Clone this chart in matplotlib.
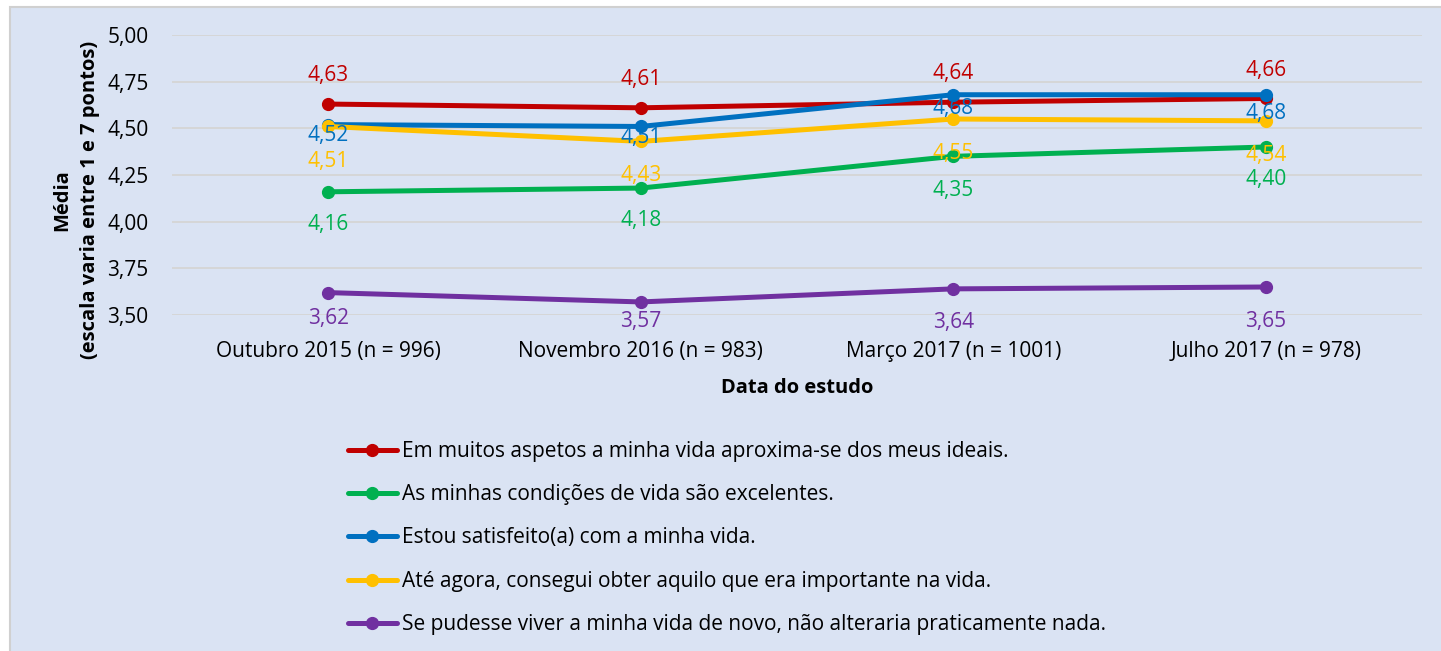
import matplotlib
matplotlib.use("Agg")
import matplotlib.pyplot as plt
from matplotlib.patches import Rectangle

plt.rcParams['font.family'] = ['Open Sans', 'DejaVu Sans']

# data
dates = ['Outubro 2015 (n = 996)', 'Novembro 2016 (n = 983)',
         'Março 2017 (n = 1001)', 'Julho 2017 (n = 978)']
series_names = [
    'Em muitos aspetos a minha vida aproxima-se dos meus ideais.',
    'As minhas condições de vida são excelentes.',
    'Estou satisfeito(a) com a minha vida.',
    'Até agora, consegui obter aquilo que era importante na vida.',
    'Se pudesse viver a minha vida de novo, não alteraria praticamente nada.',
]
ideais = [4.63, 4.61, 4.64, 4.66]
condicoes = [4.16, 4.18, 4.35, 4.40]
satisfeito = [4.52, 4.51, 4.68, 4.68]
importante = [4.51, 4.43, 4.55, 4.54]
novo = [3.62, 3.57, 3.64, 3.65]
yticks = [3.50, 3.75, 4.00, 4.25, 4.50, 4.75, 5.00]

all_series = [ideais, condicoes, satisfeito, importante, novo]
colors = ['#C00000', '#00B050', '#0070C0', '#FFC000', '#7030A0']
# label offsets in pixels (negative = below the point)
label_dy = [
    [29, 28, 29, 28],
    [-33, -32, -34, -33],
    [-11, -11, -14, -19],
    [-35, -34, -34, -35],
    [-26, -20, -34, -35],
]

W, H = 1441, 651
fig = plt.figure(figsize=(W / 100, H / 100), dpi=100)
fig.patch.set_facecolor('white')
fig.patches.append(Rectangle((10 / W, -0.01), 1.1, 1 - 7 / H + 0.01,
                             transform=fig.transFigure, facecolor='#DAE3F3',
                             edgecolor='#D0D0D0', linewidth=1.5, zorder=-5))

ax = fig.add_axes([172 / W, 1 - 315 / H, 1250 / W, 280 / H])
ax.set_facecolor('none')
x = list(range(len(dates)))

handles = []
for vals, col, name, dys in zip(all_series, colors, series_names, label_dy):
    ln, = ax.plot(x, vals, color=col, linewidth=3.6, marker='o',
                  markersize=8.5, solid_capstyle='round', zorder=3)
    handles.append(ln)
    for xi, v, dy in zip(x, vals, dys):
        ax.annotate(f'{v:.2f}'.replace('.', ','), (xi, v), xytext=(0, dy),
                    textcoords='offset pixels', ha='center', va='center',
                    color=col, fontsize=15, zorder=4)

ax.set_xlim(-0.5, 3.5)
ax.set_ylim(3.5, 5.0)
ax.set_yticks(yticks)
ax.set_yticklabels([f'{t:.2f}'.replace('.', ',') for t in yticks])
ax.set_xticks(x)
ax.set_xticklabels(dates)
ax.grid(axis='y', color='#D5D5D5', linewidth=1.3, zorder=0)
ax.set_axisbelow(True)
for s in ax.spines.values():
    s.set_visible(False)
ax.tick_params(length=0, labelsize=15, colors='black')
ax.tick_params(axis='y', pad=17)
ax.tick_params(axis='x', pad=19)

ax.set_xlabel('Data do estudo', fontsize=14.5, fontweight='bold', labelpad=11)
ax.set_ylabel('Média\n(escala varia entre 1 e 7 pontos)', fontsize=14.5,
              fontweight='bold', linespacing=1.5)
ax.yaxis.set_label_coords(-0.058, 0.41)

fig.legend(handles, series_names, loc='center left',
           bbox_to_anchor=(348 / W, 113 / H), frameon=False, fontsize=15,
           handlelength=2.35, handletextpad=0.25, labelspacing=1.07,
           borderpad=0, borderaxespad=0)

fig.savefig('out.png', dpi=100)
